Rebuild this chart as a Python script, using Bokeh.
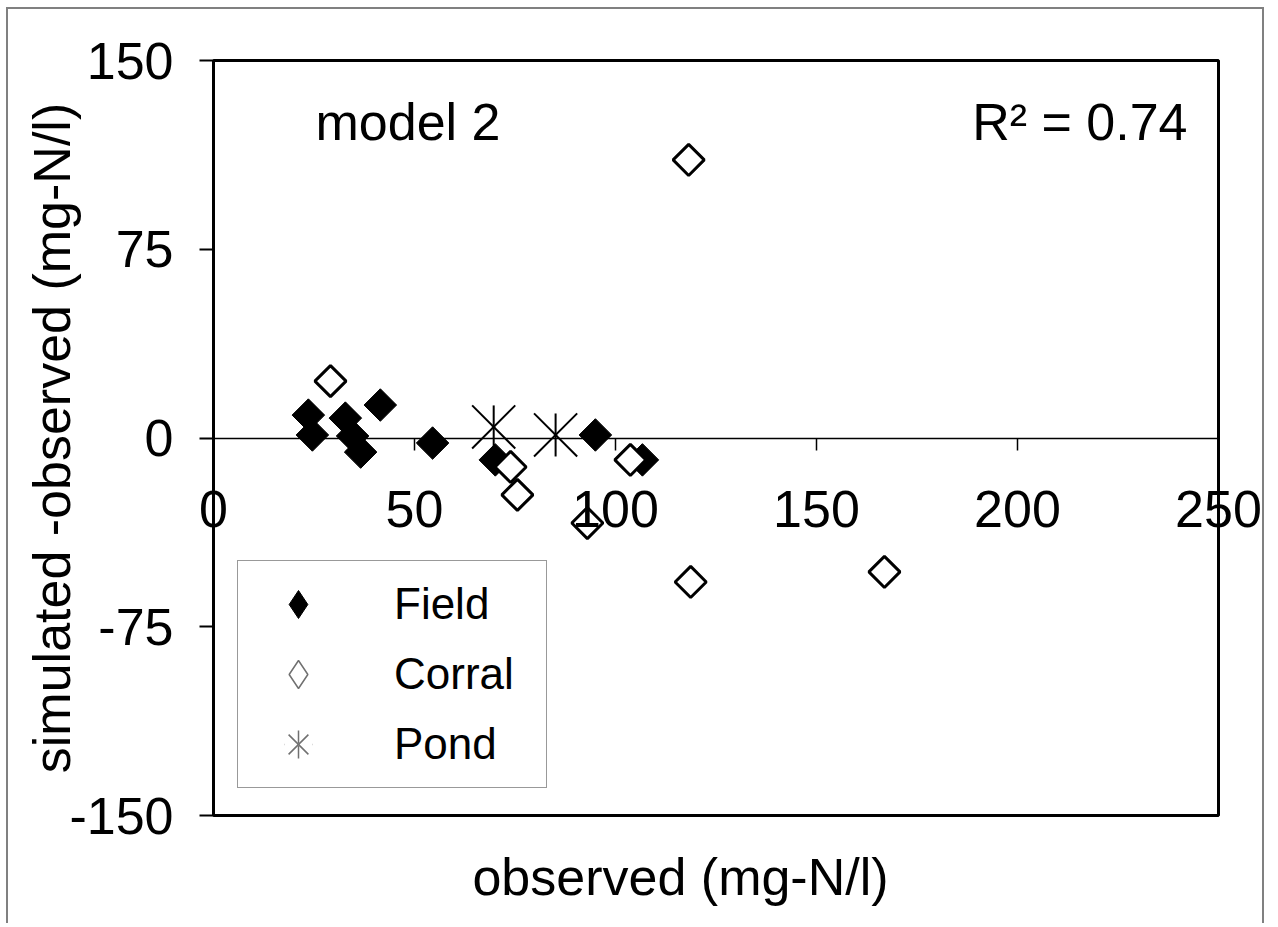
import math
from bokeh.plotting import figure
from bokeh.models import (Range1d, FixedTicker, Label, Legend, LegendItem,
                          ColumnDataSource, BoxAnnotation)
from bokeh.embed import file_html
from bokeh.resources import INLINE

# ---- data ----
field_x = [23.6, 24.6, 32.8, 34.6, 36.6, 41.5, 54.5, 70.1, 95.0, 106.7]
field_y = [9.1, 1.2, 7.9, 0.8, -5.6, 13.1, -2.0, -8.7, 1.2, -8.7]
corral_x = [29.1, 73.9, 75.6, 93.0, 103.7, 118.2, 118.7, 166.9]
corral_y = [22.6, -11.5, -22.6, -33.8, -8.7, 110.5, -57.2, -53.2]
pond_x = [69.7, 85.1]
pond_y = [4.4, 1.2]
x_ticks = [0, 50, 100, 150, 200, 250]
y_ticks = [-150, -75, 0, 75, 150]
x_lim = [0, 250]
y_lim = [-150, 150]
series_names = ["Field", "Corral", "Pond"]

FONT = "Liberation Sans"

# ---- canvas / plot-box geometry (pixels) ----
W, H = 1258, 916
BOX_L, BOX_R, BOX_T, BOX_B = 205, 1210, 51, 806   # plot box inside the canvas
sx = (BOX_R - BOX_L) / (x_lim[1] - x_lim[0])
sy = (BOX_B - BOX_T) / (y_lim[1] - y_lim[0])
x_range = Range1d(x_lim[0] - BOX_L / sx, x_lim[1] + (W - BOX_R) / sx)
y_range = Range1d(y_lim[0] - (H - BOX_B) / sy, y_lim[1] + BOX_T / sy)

p = figure(width=W, height=H, x_range=x_range, y_range=y_range,
           output_backend="svg", toolbar_location=None,
           min_border_left=0, min_border_right=0,
           min_border_top=0, min_border_bottom=0)
p.grid.visible = False
p.outline_line_color = None
p.background_fill_color = "white"
p.border_fill_color = "white"
p.styles = {"margin-left": "6px", "margin-top": "7px",
            "border-top": "2px solid #808080",
            "border-left": "2px solid #808080",
            "border-right": "2px solid #808080"}

# plot box
p.add_layout(BoxAnnotation(left=x_lim[0], right=x_lim[1],
                           bottom=y_lim[0], top=y_lim[1],
                           fill_color=None, fill_alpha=0,
                           line_color="black", line_alpha=1.0, line_width=3,
                           level="overlay"))

# x axis crossing at y = 0
xa = p.xaxis[0]
xa.fixed_location = 0
xa.bounds = tuple(x_lim)
xa.ticker = FixedTicker(ticks=x_ticks)
xa.major_tick_in = 0
xa.major_tick_out = 12
xa.major_tick_line_width = 1.5
xa.minor_tick_line_color = None
xa.axis_line_width = 1.5
xa.major_label_standoff = 41
xa.major_label_text_font_size = "52px"
xa.major_label_text_font = FONT
xa.major_label_text_color = "black"

# y axis on the left edge of the plot box
ya = p.yaxis[0]
ya.fixed_location = x_lim[0]
ya.bounds = tuple(y_lim)
ya.ticker = FixedTicker(ticks=y_ticks)
ya.major_label_overrides = {v: str(v) for v in y_ticks}
ya.major_tick_in = 0
ya.major_tick_out = 14
ya.major_tick_line_width = 2
ya.minor_tick_line_color = None
ya.axis_line_width = 3
ya.major_label_standoff = 26
ya.major_label_text_font_size = "52px"
ya.major_label_text_font = FONT
ya.major_label_text_color = "black"
ya.axis_label = "simulated -observed (mg-N/l)"
ya.axis_label_standoff = -15
ya.axis_label_text_font_size = "52px"
ya.axis_label_text_font = FONT
ya.axis_label_text_font_style = "normal"
ya.axis_label_text_color = "black"

# x axis title (below the plot box, slightly left of centre as in the original)
p.add_layout(Label(x=672, y=49, x_units="screen", y_units="screen",
                   text="observed (mg-N/l)", text_align="center",
                   text_baseline="middle", text_font_size="52px",
                   text_font=FONT, text_color="black"))

# ---- sources ----
src_f = ColumnDataSource(dict(x=field_x, y=field_y))
src_c = ColumnDataSource(dict(x=corral_x, y=corral_y))
src_p = ColumnDataSource(dict(x=pond_x, y=pond_y))

# legend glyph renderers: small, drawn first so the real markers cover them
lg_field = p.scatter("x", "y", source=src_f, marker="diamond", size=10,
                     fill_color="black", line_color="black", line_width=1)
lg_corral = p.scatter("x", "y", source=src_c, marker="diamond", size=10,
                      fill_color="white", line_color="#707070", line_width=1.5)
lg_pond_v = p.scatter("x", "y", source=src_p, marker="cross", size=4,
                      line_color="#707070", line_width=1.5)
lg_pond_w = p.scatter("x", "y", source=src_p, marker="dash", size=4,
                      line_color="white", line_width=3)
lg_pond_x = p.scatter("x", "y", source=src_p, marker="x", size=4,
                      line_color="#707070", line_width=1.5)

# ---- points ----
p.scatter("x", "y", source=src_f, marker="square", size=23,
          angle=math.pi / 4, fill_color="black", line_color="black", line_width=1)
p.scatter("x", "y", source=src_c, marker="square", size=22,
          angle=math.pi / 4, fill_color="white", line_color="black", line_width=3)
p.scatter("x", "y", source=src_p, marker="x", size=61,
          line_color="black", line_width=2)
p.scatter("x", "y", source=src_p, marker="dash", size=43,
          angle=math.pi / 2, line_color="black", line_width=2)

# ---- legend ----
legend = Legend(items=[LegendItem(label=series_names[0], renderers=[lg_field]),
                       LegendItem(label=series_names[1], renderers=[lg_corral]),
                       LegendItem(label=series_names[2],
                                  renderers=[lg_pond_v, lg_pond_w, lg_pond_x])],
                location=(BOX_L + 24, (H - BOX_B) + 27), orientation="vertical",
                border_line_color="#333333", border_line_width=1.5,
                background_fill_color="white", background_fill_alpha=1.0,
                padding=8, spacing=0, margin=0,
                glyph_height=70, glyph_width=104, label_height=70,
                label_standoff=44, label_width=144,
                label_text_font_size="44px", label_text_font=FONT,
                label_text_color="black")
p.add_layout(legend)

# ---- in-plot texts ----
p.add_layout(Label(x=BOX_L + 102, y=(H - BOX_B) + 694, x_units="screen", y_units="screen",
                   text="model 2", text_font_size="52px", text_font=FONT,
                   text_color="black", text_baseline="alphabetic",
                   text_align="left"))
p.add_layout(Label(x=BOX_L + 974, y=(H - BOX_B) + 694, x_units="screen", y_units="screen",
                   text="R\u00b2 = 0.74", text_font_size="52px", text_font=FONT,
                   text_color="black", text_baseline="alphabetic",
                   text_align="right"))

open("out.html", "w").write(file_html(p, INLINE))
